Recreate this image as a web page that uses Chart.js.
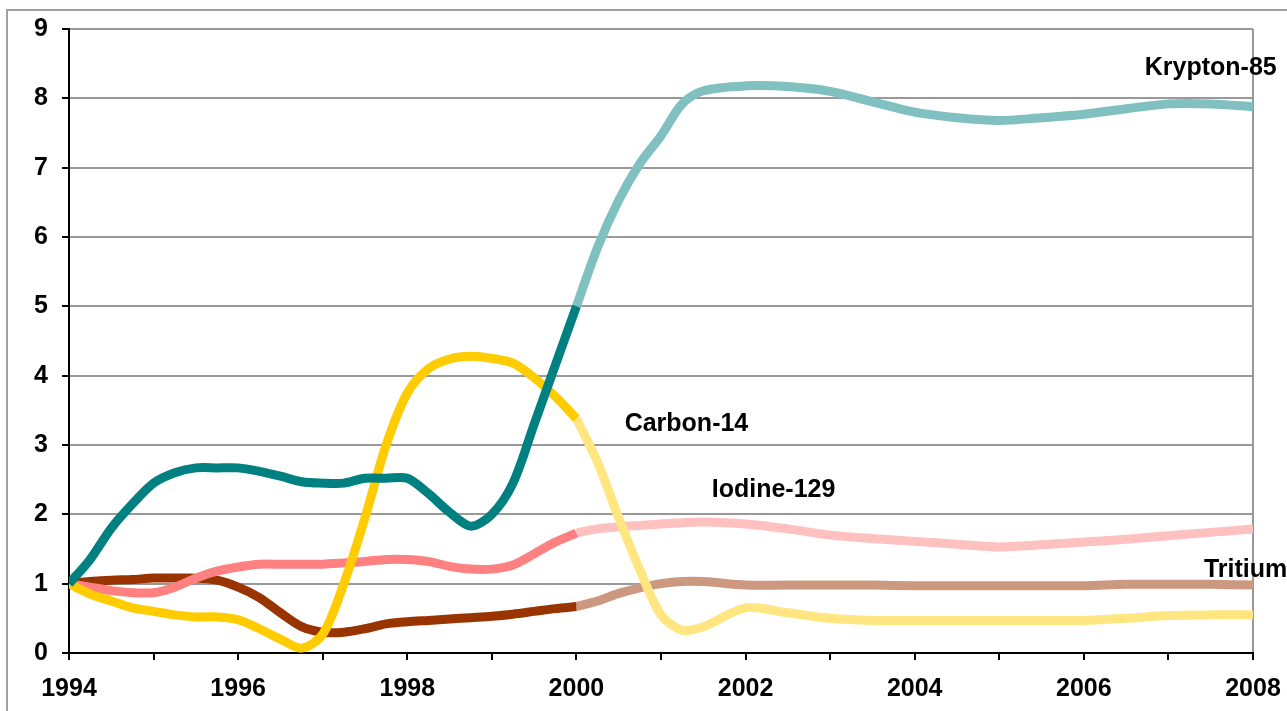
<!DOCTYPE html>
<html>
<head>
<meta charset="utf-8">
<script src="https://cdn.jsdelivr.net/npm/chart.js@4.4.0/dist/chart.umd.min.js"></script>
<style>
  html, body { margin: 0; padding: 0; background: #fff; }
  #wrap { position: relative; width: 1287px; height: 711px; overflow: hidden; }
  #frame { position: absolute; left: 6px; top: 9px; width: 1400px; height: 800px; border: 2px solid #a0a0a0; }
  #grafik { position: absolute; left: 0; top: 0; }
</style>
</head>
<body>
<div id="wrap">
  <div id="frame"></div>
  <canvas id="grafik" width="1287" height="711"></canvas>
</div>
<script>
// tahun (kuartal sampai 2000, lalu lebih jarang)
const yearsEarly = [1994, 1994.25, 1994.5, 1994.75, 1995, 1995.25, 1995.5, 1995.75,
  1996, 1996.25, 1996.5, 1996.75, 1997, 1997.25, 1997.5, 1997.75,
  1998, 1998.25, 1998.5, 1998.75, 1999, 1999.25, 1999.5, 1999.75, 2000];
const yearsLate = [2000, 2000.25, 2000.5, 2000.75, 2001, 2001.25, 2001.5, 2002, 2002.5,
  2003, 2003.5, 2004, 2004.5, 2005, 2005.5, 2006, 2006.5, 2007, 2007.5, 2008];

const kryptonEarly = [1.0, 1.35, 1.8, 2.15, 2.45, 2.6, 2.67, 2.67, 2.67, 2.62, 2.55, 2.47,
  2.45, 2.45, 2.52, 2.52, 2.52, 2.3, 2.03, 1.83, 2.0, 2.45, 3.3, 4.15, 5.0];
const kryptonLate = [5.0, 5.85, 6.53, 7.06, 7.46, 7.92, 8.11, 8.18, 8.17, 8.1, 7.95, 7.8,
  7.72, 7.68, 7.72, 7.77, 7.85, 7.92, 7.92, 7.88];

const carbonEarly = [1.0, 0.85, 0.75, 0.65, 0.6, 0.55, 0.52, 0.52, 0.48, 0.35, 0.2, 0.07,
  0.27, 1.0, 1.95, 3.0, 3.75, 4.1, 4.24, 4.28, 4.25, 4.18, 3.97, 3.7, 3.38];
const carbonLate = [3.38, 2.75, 1.95, 1.2, 0.55, 0.33, 0.38, 0.65, 0.58, 0.5, 0.47, 0.47,
  0.47, 0.47, 0.47, 0.47, 0.5, 0.54, 0.55, 0.55];

const iodineEarly = [1.0, 0.95, 0.9, 0.87, 0.87, 0.95, 1.08, 1.18, 1.24, 1.28, 1.28, 1.28,
  1.28, 1.3, 1.32, 1.35, 1.35, 1.32, 1.25, 1.21, 1.21, 1.27, 1.43, 1.6, 1.73];
const iodineLate = [1.73, 1.79, 1.82, 1.84, 1.86, 1.88, 1.89, 1.86, 1.79, 1.7, 1.65, 1.61,
  1.57, 1.53, 1.56, 1.6, 1.64, 1.69, 1.74, 1.79];

const tritiumEarly = [1.0, 1.03, 1.05, 1.06, 1.08, 1.08, 1.08, 1.05, 0.95, 0.8, 0.58, 0.38,
  0.3, 0.3, 0.35, 0.42, 0.45, 0.47, 0.49, 0.51, 0.53, 0.56, 0.6, 0.64, 0.67];
const tritiumLate = [0.67, 0.75, 0.86, 0.94, 1.0, 1.03, 1.03, 0.98, 0.98, 0.98, 0.98, 0.97,
  0.97, 0.97, 0.97, 0.97, 0.99, 0.99, 0.99, 0.98];

// label seri: [teks, tahun, nilai]
const seriesLabels = [
  ['Krypton-85', 2006.72, 8.43],
  ['Carbon-14', 2000.57, 3.3],
  ['Iodine-129', 2001.6, 2.35],
  ['Tritium', 2007.42, 1.2]
];

const FONT = '"Liberation Sans", Arial, sans-serif';

function pts(xs, ys) {
  return xs.map((x, i) => ({ x: x, y: ys[i] }));
}

function line(xs, ys, color) {
  return {
    data: pts(xs, ys),
    borderColor: color,
    borderWidth: 9,
    pointRadius: 0,
    tension: 0.3,
    fill: false,
    borderCapStyle: 'butt'
  };
}

const labelPlugin = {
  id: 'seriesLabels',
  afterDatasetsDraw(chart) {
    const ctx = chart.ctx;
    const xs = chart.scales.x, ys = chart.scales.y;
    ctx.save();
    ctx.font = 'bold 25px ' + FONT;
    ctx.fillStyle = '#000';
    ctx.textAlign = 'left';
    ctx.textBaseline = 'middle';
    seriesLabels.forEach(l => {
      ctx.fillText(l[0], xs.getPixelForValue(l[1]), ys.getPixelForValue(l[2]));
    });
    ctx.restore();
  }
};

const ctx = document.getElementById('grafik').getContext('2d');
new Chart(ctx, {
  type: 'line',
  data: {
    datasets: [
      line(yearsEarly, kryptonEarly, '#008080'),
      line(yearsLate, kryptonLate, '#80c0c0'),
      line(yearsEarly, carbonEarly, '#ffcc00'),
      line(yearsLate, carbonLate, '#ffe680'),
      line(yearsEarly, iodineEarly, '#ff8080'),
      line(yearsLate, iodineLate, '#ffc0c0'),
      line(yearsEarly, tritiumEarly, '#993300'),
      line(yearsLate, tritiumLate, '#cc9980')
    ]
  },
  options: {
    responsive: false,
    animation: false,
    devicePixelRatio: 1,
    layout: { padding: { left: 0, top: 29, right: 34, bottom: 0 } },
    plugins: { legend: { display: false }, tooltip: { enabled: false } },
    scales: {
      x: {
        type: 'linear',
        min: 1994,
        max: 2008,
        afterFit: s => { s.height = 58; s.paddingLeft = 0; s.paddingRight = 0; },
        ticks: {
          stepSize: 1,
          autoSkip: false,
          maxRotation: 0,
          padding: 14,
          color: '#000',
          font: { family: FONT, size: 25, weight: 'bold' },
          callback: v => (v % 2 === 0 ? String(v) : '')
        },
        grid: {
          color: c => (c.tick && c.tick.value === 2008 ? '#999' : 'rgba(0,0,0,0)'),
          lineWidth: 2,
          tickColor: '#000',
          tickLength: 7
        },
        border: { color: '#000', width: 2 }
      },
      y: {
        min: 0,
        max: 9,
        afterFit: s => { s.width = 69; s.paddingTop = 0; s.paddingBottom = 0; },
        ticks: {
          stepSize: 1,
          padding: 14,
          color: '#000',
          font: { family: FONT, size: 25, weight: 'bold' }
        },
        grid: {
          color: c => (c.tick && c.tick.value === 0 ? 'rgba(0,0,0,0)' : '#999'),
          lineWidth: 2,
          tickColor: '#000',
          tickLength: 7
        },
        border: { color: '#000', width: 2 }
      }
    }
  },
  plugins: [labelPlugin]
});
</script>
</body>
</html>
